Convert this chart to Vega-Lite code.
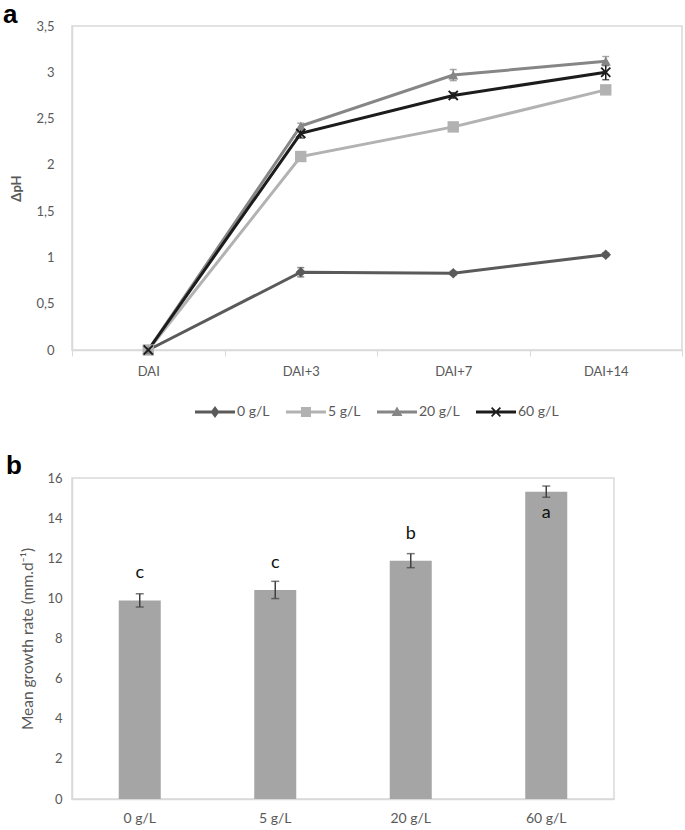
{
  "$schema": "https://vega.github.io/schema/vega-lite/v6.json",
  "padding": {"left": 2, "top": 1, "right": 4, "bottom": 4},
  "background": "white",
  "spacing": 32,
  "resolve": {"legend": {"color": "independent"}},
  "config": {
    "font": "Lato, sans-serif",
    "view": {"stroke": "#d9d9d9", "strokeWidth": 1.5},
    "axis": {"labelColor": "#595959", "grid": false, "domainColor": "#d9d9d9", "domainWidth": 1.5, "tickColor": "#d9d9d9", "titleColor": "#595959"},
    "legend": {"layout": {"bottom": {"anchor": "middle"}}}
  },
  "vconcat": [
    {
      "title": {"text": "a", "anchor": "start", "frame": "group", "dx": -69, "fontSize": 26, "fontWeight": "bold", "color": "#000000", "font": "Liberation Sans, Arial, sans-serif", "offset": -8},
      "width": 610,
      "height": 324,
      "data": {"values": [
        {"day": "DAI", "conc": "0 g/L", "dph": 0, "err": 0},
        {"day": "DAI+3", "conc": "0 g/L", "dph": 0.84, "err": 0.05},
        {"day": "DAI+7", "conc": "0 g/L", "dph": 0.83, "err": 0.02},
        {"day": "DAI+14", "conc": "0 g/L", "dph": 1.03, "err": 0.02},
        {"day": "DAI", "conc": "5 g/L", "dph": 0, "err": 0},
        {"day": "DAI+3", "conc": "5 g/L", "dph": 2.09, "err": 0.03},
        {"day": "DAI+7", "conc": "5 g/L", "dph": 2.41, "err": 0.02},
        {"day": "DAI+14", "conc": "5 g/L", "dph": 2.81, "err": 0.03},
        {"day": "DAI", "conc": "20 g/L", "dph": 0, "err": 0},
        {"day": "DAI+3", "conc": "20 g/L", "dph": 2.42, "err": 0.03},
        {"day": "DAI+7", "conc": "20 g/L", "dph": 2.97, "err": 0.06},
        {"day": "DAI+14", "conc": "20 g/L", "dph": 3.12, "err": 0.05},
        {"day": "DAI", "conc": "60 g/L", "dph": 0, "err": 0},
        {"day": "DAI+3", "conc": "60 g/L", "dph": 2.34, "err": 0.05},
        {"day": "DAI+7", "conc": "60 g/L", "dph": 2.75, "err": 0.03},
        {"day": "DAI+14", "conc": "60 g/L", "dph": 3.0, "err": 0.08}
      ]},
      "encoding": {
        "x": {"field": "day", "type": "ordinal", "sort": ["DAI", "DAI+3", "DAI+7", "DAI+14"], "bandPosition": 0.5,
          "scale": {"type": "band", "paddingInner": 0, "paddingOuter": 0},
          "axis": {"title": null, "labelAngle": 0, "tickBand": "extent", "ticks": true, "tickSize": 6, "labelFontSize": 13, "labelPadding": 9}},
        "y": {"field": "dph", "type": "quantitative", "scale": {"domain": [0, 3.5]},
          "axis": {"title": "ΔpH", "values": [0, 0.5, 1, 1.5, 2, 2.5, 3, 3.5], "labelExpr": "replace(format(datum.value,'~g'),'.',',')", "tickSize": 0, "labelPadding": 18, "labelFontSize": 13, "titleFontSize": 13, "titleFontWeight": "bold", "titlePadding": 12}},
        "color": {"field": "conc", "type": "nominal", "sort": ["0 g/L", "5 g/L", "20 g/L", "60 g/L"],
          "scale": {"domain": ["0 g/L", "5 g/L", "20 g/L", "60 g/L"], "range": ["#5a5a5a", "#b2b2b2", "#868686", "#1c1c1c"]},
          "legend": {"orient": "bottom", "direction": "horizontal", "title": null, "labelFontSize": 14, "labelColor": "#595959", "symbolSize": 1600, "labelOffset": 2, "columnPadding": 16, "offset": 14,
            "encode": {"symbols": {"update": {
              "strokeWidth": {"value": 0},
              "fill": {"scale": "color", "field": "value"},
              "fillOpacity": {"value": 1},
              "shape": {"signal": "datum.value === '0 g/L' ? 'M-1,-0.075H1V0.075H-1Z M0,-0.3L0.22,0L0,0.3L-0.22,0Z' : datum.value === '5 g/L' ? 'M-1,-0.075H1V0.075H-1Z M-0.25,-0.25H0.25V0.25H-0.25Z' : datum.value === '20 g/L' ? 'M-1,-0.075H1V0.075H-1Z M0,-0.28L0.27,0.2H-0.27Z' : 'M-1,-0.075H1V0.075H-1Z M-0.25,-0.19L-0.19,-0.25L0,-0.06L0.19,-0.25L0.25,-0.19L0.06,0L0.25,0.19L0.19,0.25L0,0.06L-0.19,0.25L-0.25,0.19L-0.06,0Z'"}
            }}}}}
      },
      "layer": [
        {"mark": {"type": "line", "strokeWidth": 3}},
        {"transform": [{"filter": "datum.err > 0"}],
         "mark": {"type": "errorbar", "ticks": {"size": 7}, "thickness": 1.5},
         "encoding": {"yError": {"field": "err"}}},
        {"transform": [{"filter": "datum.conc === '0 g/L'"}], "mark": {"type": "point", "filled": true, "opacity": 1, "size": 110, "shape": "diamond"}},
        {"transform": [{"filter": "datum.conc === '5 g/L'"}], "mark": {"type": "point", "filled": true, "opacity": 1, "size": 130, "shape": "square"}},
        {"transform": [{"filter": "datum.conc === '20 g/L'"}], "mark": {"type": "point", "filled": true, "opacity": 1, "size": 100, "shape": "triangle-up"}},
        {"transform": [{"filter": "datum.conc === '60 g/L'"}], "mark": {"type": "point", "filled": true, "opacity": 1, "size": 110, "shape": "M-1,-0.75L-0.75,-1L0,-0.25L0.75,-1L1,-0.75L0.25,0L1,0.75L0.75,1L0,0.25L-0.75,1L-1,0.75L-0.25,0Z"}}
      ]
    },
    {
      "title": {"text": "b", "anchor": "start", "frame": "group", "dx": -66, "fontSize": 26, "fontWeight": "bold", "color": "#000000", "font": "Liberation Sans, Arial, sans-serif", "offset": -7},
      "width": 542,
      "height": 321,
      "data": {"values": [
        {"conc": "0 g/L", "rate": 9.9, "err": 0.33, "letter": "c"},
        {"conc": "5 g/L", "rate": 10.42, "err": 0.43, "letter": "c"},
        {"conc": "20 g/L", "rate": 11.88, "err": 0.35, "letter": "b"},
        {"conc": "60 g/L", "rate": 15.32, "err": 0.28, "letter": "a"}
      ]},
      "encoding": {
        "x": {"field": "conc", "type": "nominal", "sort": null, "scale": {"paddingInner": 0.69, "paddingOuter": 0.345},
          "axis": {"title": null, "labelAngle": 0, "ticks": false, "labelFontSize": 14, "labelPadding": 12}},
        "y": {"field": "rate", "type": "quantitative", "scale": {"domain": [0, 16]},
          "axis": {"title": "Mean growth rate (mm.d⁻¹)", "values": [0, 2, 4, 6, 8, 10, 12, 14, 16], "tickSize": 0, "labelPadding": 10, "labelFontSize": 13, "titleFontSize": 15.5, "titleFontWeight": "normal", "titlePadding": 11}}
      },
      "layer": [
        {"mark": {"type": "bar", "color": "#a5a5a5"}},
        {"mark": {"type": "errorbar", "ticks": {"size": 8}, "color": "#404040", "thickness": 1.5},
         "encoding": {"yError": {"field": "err"}}},
        {"transform": [{"filter": "datum.letter !== 'a'"}],
         "mark": {"type": "text", "fontSize": 18, "color": "#111111", "dy": -27},
         "encoding": {"text": {"field": "letter"}}},
        {"transform": [{"filter": "datum.letter === 'a'"}],
         "mark": {"type": "text", "fontSize": 18, "color": "#111111", "dy": 21},
         "encoding": {"text": {"field": "letter"}}}
      ]
    }
  ]
}
